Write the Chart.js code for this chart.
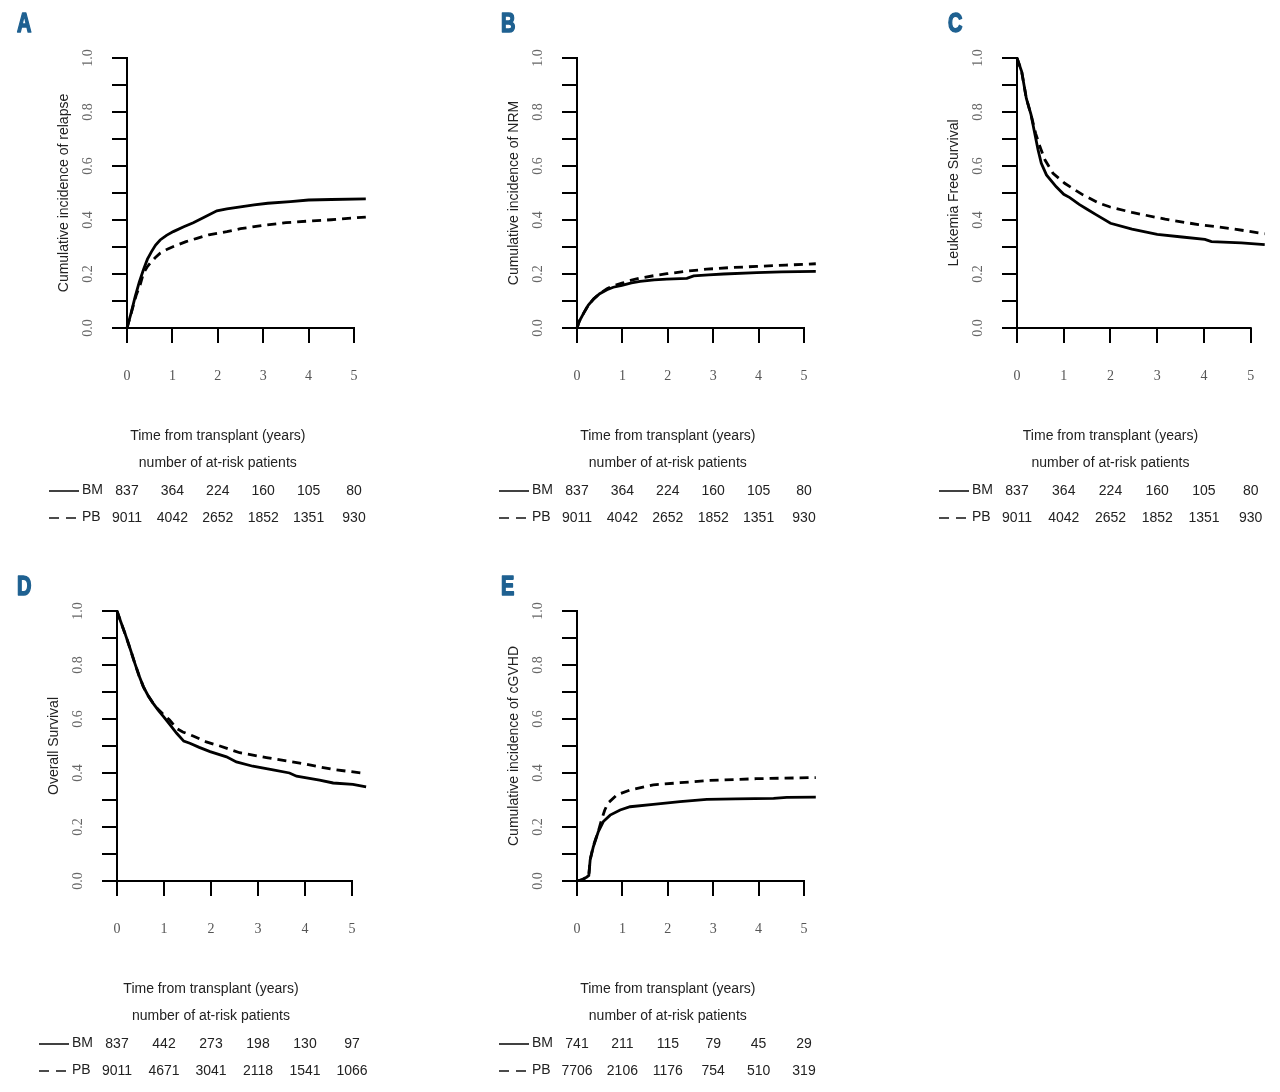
<!DOCTYPE html>
<html lang="en">
<head>
<meta charset="UTF-8">
<title>BM vs PB outcomes</title>
<script src="https://cdn.jsdelivr.net/npm/chart.js"></script>
<style>
  body { margin: 0; background: #fff; }
  #wrap { position: relative; width: 1280px; height: 1092px; overflow: hidden; }
  canvas { position: absolute; }
</style>
</head>
<body>
<div id="wrap">
  <canvas id="panelA" width="440" height="545" style="left:0px;top:0px"></canvas>
  <canvas id="panelB" width="440" height="545" style="left:440px;top:0px"></canvas>
  <canvas id="panelC" width="400" height="545" style="left:880px;top:0px"></canvas>
  <canvas id="panelD" width="440" height="537" style="left:0px;top:555px"></canvas>
  <canvas id="panelE" width="440" height="537" style="left:440px;top:555px"></canvas>
</div>
<script>
// ---- data: [years, value] ----
const relapseBM = [[0,0],[0.09,0.055],[0.18,0.116],[0.27,0.17],[0.36,0.215],[0.45,0.255],[0.54,0.283],[0.63,0.307],[0.73,0.326],[0.87,0.343],[1.02,0.357],[1.25,0.375],[1.46,0.39],[1.7,0.41],[1.98,0.434],[2.2,0.441],[2.5,0.449],[2.8,0.456],[3.1,0.462],[3.6,0.468],[4.0,0.474],[4.5,0.476],[5.26,0.478]];
const relapsePB = [[0,0],[0.1,0.06],[0.2,0.12],[0.29,0.16],[0.36,0.202],[0.44,0.225],[0.51,0.24],[0.62,0.26],[0.73,0.277],[0.9,0.293],[1.1,0.307],[1.3,0.32],[1.54,0.332],[1.8,0.345],[2.2,0.357],[2.5,0.368],[3.0,0.38],[3.5,0.39],[4.0,0.396],[4.5,0.401],[5.26,0.411]];

const nrmBM = [[0,0],[0.05,0.025],[0.15,0.056],[0.25,0.085],[0.37,0.108],[0.5,0.127],[0.66,0.142],[0.8,0.151],[0.99,0.158],[1.2,0.167],[1.39,0.173],[1.7,0.178],[1.98,0.181],[2.42,0.184],[2.57,0.193],[2.9,0.197],[3.23,0.2],[3.96,0.205],[4.5,0.208],[5.26,0.21]];
const nrmPB = [[0,0],[0.05,0.025],[0.15,0.056],[0.25,0.085],[0.37,0.108],[0.5,0.128],[0.66,0.145],[0.8,0.156],[0.99,0.166],[1.2,0.177],[1.39,0.185],[1.7,0.194],[1.98,0.201],[2.4,0.21],[2.86,0.218],[3.4,0.224],[3.96,0.228],[4.6,0.233],[5.26,0.238]];

const lfsBM = [[0,1],[0.1,0.95],[0.2,0.85],[0.3,0.79],[0.38,0.72],[0.45,0.66],[0.52,0.61],[0.63,0.567],[0.84,0.523],[1.0,0.495],[1.13,0.483],[1.33,0.458],[1.5,0.44],[1.69,0.42],[2.0,0.388],[2.46,0.366],[3.0,0.347],[3.53,0.337],[4.02,0.328],[4.16,0.32],[4.8,0.315],[5.3,0.309]];
const lfsPB = [[0,1],[0.1,0.95],[0.2,0.85],[0.3,0.79],[0.4,0.72],[0.49,0.672],[0.6,0.622],[0.77,0.573],[1.02,0.536],[1.41,0.493],[1.76,0.462],[1.98,0.449],[2.46,0.428],[3.17,0.403],[3.88,0.383],[4.59,0.368],[5.3,0.349]];

const osBM = [[0,1],[0.08,0.96],[0.17,0.917],[0.28,0.86],[0.38,0.806],[0.47,0.76],[0.56,0.72],[0.66,0.687],[0.77,0.658],[0.88,0.632],[0.99,0.609],[1.13,0.578],[1.27,0.547],[1.42,0.518],[1.55,0.51],[1.75,0.495],[1.98,0.479],[2.33,0.46],[2.54,0.441],[2.89,0.425],[3.32,0.412],[3.67,0.4],[3.82,0.388],[4.31,0.374],[4.6,0.363],[5.02,0.358],[5.3,0.349]];
const osPB = [[0,1],[0.08,0.96],[0.17,0.917],[0.28,0.86],[0.38,0.806],[0.47,0.76],[0.56,0.72],[0.66,0.687],[0.77,0.658],[0.88,0.635],[1.0,0.615],[1.12,0.596],[1.27,0.565],[1.4,0.552],[1.62,0.537],[1.9,0.515],[2.19,0.5],[2.61,0.475],[3.18,0.457],[3.89,0.437],[4.6,0.413],[5.3,0.398]];

const gvhdBM = [[0,0],[0.1,0.004],[0.21,0.014],[0.26,0.02],[0.29,0.078],[0.36,0.127],[0.47,0.183],[0.58,0.22],[0.73,0.244],[0.95,0.263],[1.17,0.275],[1.68,0.284],[2.27,0.294],[2.86,0.302],[3.5,0.304],[4.33,0.306],[4.62,0.31],[5.26,0.311]];
const gvhdPB = [[0,0],[0.1,0.004],[0.21,0.014],[0.26,0.02],[0.29,0.08],[0.36,0.13],[0.47,0.185],[0.54,0.226],[0.61,0.262],[0.68,0.288],[0.88,0.319],[1.17,0.337],[1.68,0.356],[2.27,0.364],[2.86,0.372],[3.96,0.379],[5.26,0.383]];

// number at risk at 0..5 years
const riskBM = [837, 364, 224, 160, 105, 80];
const riskPB = [9011, 4042, 2652, 1852, 1351, 930];
const riskOsBM = [837, 442, 273, 198, 130, 97];
const riskOsPB = [9011, 4671, 3041, 2118, 1541, 1066];
const riskGvhdBM = [741, 211, 115, 79, 45, 29];
const riskGvhdPB = [7706, 2106, 1176, 754, 510, 319];

const xTicks = [0, 1, 2, 3, 4, 5];
const yLabels = [0, 0.2, 0.4, 0.6, 0.8, 1.0];

// page geometry of each panel (canvas box and axis placement)
const panels = [
  { id: 'panelA', left: 0,   top: 0,   x0: 127,  y1: 58,  y0: 328, ppy: 45.4, xmax: 5.26, letter: 'A', lx: 16, ly: 32,
    title: 'Cumulative incidence of relapse', bm: relapseBM, pb: relapsePB, rBM: riskBM, rPB: riskPB },
  { id: 'panelB', left: 440, top: 0,   x0: 577,  y1: 58,  y0: 328, ppy: 45.4, xmax: 5.26, letter: 'B', lx: 500, ly: 32,
    title: 'Cumulative incidence of NRM', bm: nrmBM, pb: nrmPB, rBM: riskBM, rPB: riskPB },
  { id: 'panelC', left: 880, top: 0,   x0: 1017, y1: 58,  y0: 328, ppy: 47,   xmax: 5.3,  letter: 'C', lx: 947, ly: 32,
    title: 'Leukemia Free Survival', bm: lfsBM, pb: lfsPB, rBM: riskBM, rPB: riskPB },
  { id: 'panelD', left: 0,   top: 555, x0: 117,  y1: 611, y0: 881, ppy: 47,   xmax: 5.3,  letter: 'D', lx: 16, ly: 595,
    title: 'Overall Survival', bm: osBM, pb: osPB, rBM: riskOsBM, rPB: riskOsPB },
  { id: 'panelE', left: 440, top: 555, x0: 577,  y1: 611, y0: 881, ppy: 45.4, xmax: 5.26, letter: 'E', lx: 500, ly: 595,
    title: 'Cumulative incidence of cGVHD', bm: gvhdBM, pb: gvhdPB, rBM: riskGvhdBM, rPB: riskGvhdPB }
];

const SERIF = '"Liberation Serif", "DejaVu Serif", serif';
const SANS = '"Liberation Sans", Arial, sans-serif';
const Y_W = 90, X_H = 60;

// axis lines, rotated y labels, panel letter and at-risk table
const decor = {
  id: 'decor',
  afterDraw(chart, args, o) {
    const { ctx, scales: { x, y } } = chart;
    const px0 = x.getPixelForValue(0), px5 = x.getPixelForValue(5);
    const py0 = y.getPixelForValue(0), py1 = y.getPixelForValue(1);
    ctx.save();
    ctx.strokeStyle = '#000';
    ctx.lineWidth = 2;
    ctx.lineCap = 'square';
    ctx.beginPath();
    ctx.moveTo(px0, py1); ctx.lineTo(px0, py0); ctx.lineTo(px5, py0);
    ctx.stroke();

    ctx.fillStyle = '#666';
    ctx.font = '14px ' + SERIF;
    ctx.textAlign = 'center';
    ctx.textBaseline = 'middle';
    yLabels.forEach(v => {
      ctx.save();
      ctx.translate(px0 - 39, y.getPixelForValue(v));
      ctx.rotate(-Math.PI / 2);
      ctx.fillText(v.toFixed(1), 0, 0);
      ctx.restore();
    });

    // condensed heavy panel letter
    ctx.save();
    ctx.fillStyle = '#1f6191';
    ctx.strokeStyle = '#1f6191';
    ctx.lineWidth = 1.6;
    ctx.lineJoin = 'round';
    ctx.font = 'bold 27px "Liberation Sans", "DejaVu Sans", sans-serif';
    ctx.textAlign = 'left';
    ctx.textBaseline = 'alphabetic';
    ctx.translate(o.lx + 1, o.ly);
    ctx.scale(0.74, 1);
    ctx.fillText(o.letter, 0, 0);
    ctx.strokeText(o.letter, 0, 0);
    ctx.restore();

    ctx.fillStyle = '#222';
    ctx.font = '14px ' + SANS;
    ctx.textAlign = 'center';
    ctx.textBaseline = 'middle';
    const cx = x.getPixelForValue(2);
    ctx.fillText('Time from transplant (years)', cx, py0 + 108);
    ctx.fillText('number of at-risk patients', cx, py0 + 135);

    const rows = [['BM', o.rBM, false, py0 + 163], ['PB', o.rPB, true, py0 + 190]];
    rows.forEach(([name, vals, dashed, ry]) => {
      ctx.strokeStyle = '#111';
      ctx.lineWidth = 1.6;
      ctx.lineCap = 'butt';
      ctx.setLineDash(dashed ? [10, 7] : []);
      ctx.beginPath();
      ctx.moveTo(px0 - 78, ry); ctx.lineTo(px0 - 48, ry);
      ctx.stroke();
      ctx.setLineDash([]);
      ctx.textAlign = 'left';
      ctx.fillText(name, px0 - 45, ry - 1);
      ctx.textAlign = 'center';
      vals.forEach((n, i) => ctx.fillText(String(n), x.getPixelForValue(xTicks[i]), ry));
    });
    ctx.restore();
  }
};

panels.forEach(p => {
  const canvas = document.getElementById(p.id);
  const w = canvas.width, h = canvas.height;
  const lx0 = p.x0 - p.left, ly1 = p.y1 - p.top, ly0 = p.y0 - p.top;
  const toXY = arr => arr.map(([t, v]) => ({ x: t, y: v }));
  new Chart(canvas.getContext('2d'), {
    type: 'line',
    data: {
      datasets: [
        { label: 'BM', data: toXY(p.bm), borderColor: '#000', borderWidth: 2.8, pointRadius: 0, tension: 0, clip: false },
        { label: 'PB', data: toXY(p.pb), borderColor: '#000', borderWidth: 2.8, borderDash: [9, 6], pointRadius: 0, tension: 0, clip: false }
      ]
    },
    options: {
      responsive: false,
      animation: false,
      events: [],
      layout: {
        padding: { left: lx0 - Y_W, top: ly1, right: w - (lx0 + p.xmax * p.ppy), bottom: h - ly0 - X_H }
      },
      plugins: {
        legend: { display: false },
        tooltip: { enabled: false },
        decor: { letter: p.letter, lx: p.lx - p.left, ly: p.ly - p.top, rBM: p.rBM, rPB: p.rPB }
      },
      scales: {
        x: {
          type: 'linear',
          min: 0,
          max: p.xmax,
          afterFit: s => { s.height = X_H; },
          afterBuildTicks: s => { s.ticks = xTicks.map(v => ({ value: v })); },
          border: { display: false },
          grid: { drawOnChartArea: false, drawTicks: true, tickLength: 15, color: '#000', lineWidth: 2 },
          ticks: { padding: 25, color: '#555', font: { family: SERIF, size: 14 }, maxRotation: 0, includeBounds: false }
        },
        y: {
          type: 'linear',
          min: 0,
          max: 1,
          afterFit: s => { s.width = Y_W; },
          border: { display: false },
          grid: { drawOnChartArea: false, drawTicks: true, tickLength: 15, color: '#000', lineWidth: 2 },
          ticks: { display: false, stepSize: 0.1, includeBounds: false },
          title: {
            display: true,
            text: p.title,
            color: '#222',
            font: { family: SANS, size: 14 },
            padding: { top: Y_W - 63 - 8.4, bottom: 0 }
          }
        }
      }
    },
    plugins: [decor]
  });
});
</script>
</body>
</html>
